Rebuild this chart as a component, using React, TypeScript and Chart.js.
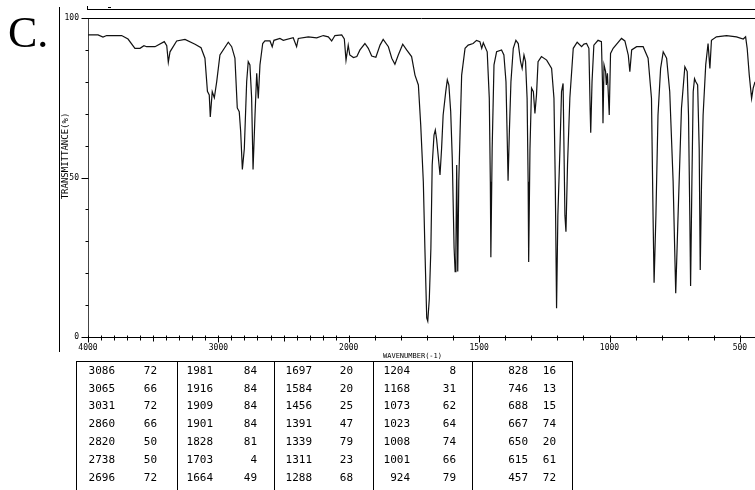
import React, { useEffect, useRef } from "react";
import { Chart, registerables } from "chart.js";

Chart.register(...registerables);

// Spectrum trace (wavenumber in cm-1, transmittance in %)
const wavenumbers = [
  4000, 3923, 3885, 3857, 3742, 3693, 3640, 3601, 3571, 3550, 3486, 3415, 3396, 3384, 3371, 3320,
  3256, 3179, 3133, 3103, 3084, 3070, 3062, 3047, 3031, 3013, 2988, 2924, 2898, 2873, 2855, 2840,
  2829, 2816, 2801, 2783, 2771, 2758, 2745, 2734, 2719, 2706, 2694, 2681, 2660, 2643, 2604, 2587,
  2574, 2528, 2502, 2426, 2400, 2387, 2310, 2246, 2195, 2157, 2131, 2106, 2054, 2034, 2021, 2004,
  1996, 1982, 1969, 1957, 1938, 1925, 1912, 1896, 1880, 1868, 1848, 1835, 1823, 1810, 1793, 1778,
  1759, 1746, 1733, 1724, 1714, 1708, 1701, 1697, 1691, 1685, 1680, 1673, 1668, 1663, 1650, 1644,
  1638, 1628, 1622, 1616, 1609, 1603, 1596, 1592, 1589, 1586, 1582, 1578, 1573, 1567, 1554, 1542,
  1523, 1510, 1497, 1490, 1484, 1469, 1461, 1457, 1455, 1450, 1443, 1433, 1414, 1405, 1397, 1392,
  1389, 1384, 1378, 1369, 1359, 1350, 1341, 1335, 1328, 1322, 1316, 1312, 1310, 1305, 1299, 1292,
  1286, 1280, 1274, 1261, 1241, 1222, 1213, 1208, 1203, 1198, 1190, 1184, 1178, 1171, 1167, 1161,
  1152, 1139, 1124, 1107, 1098, 1088, 1079, 1074, 1072, 1067, 1060, 1044, 1031, 1027, 1025, 1021,
  1015, 1012, 1008, 1001, 996, 986, 954, 941, 928, 922, 915, 896, 871, 852, 839, 833,
  829, 822, 814, 804, 794, 781, 769, 756, 746, 737, 724, 711, 702, 697, 692, 689,
  684, 679, 674, 669, 662, 656, 652, 647, 641, 631, 622, 615, 609, 590, 551, 513,
  487, 478, 472, 464, 455, 449, 442,
];
const transmittance = [
  94.7, 94.7, 94, 94.5, 94.5, 93.4, 90.5, 90.5, 91.3, 91, 91, 92.6, 91.3, 86.1, 89.4, 92.8,
  93.3, 91.8, 90.7, 87.4, 77, 75.9, 69, 76.9, 75, 80, 88.4, 92.4, 91, 87.4, 71.8, 70.6,
  64.4, 52.5, 59, 80, 86.3, 85.3, 75, 52.5, 69.6, 82.7, 74.8, 85.3, 92, 92.8, 92.8, 91,
  93, 93.6, 93, 93.8, 91, 93.6, 94.1, 93.8, 94.5, 94.1, 92.8, 94.5, 94.7, 93.4, 86.8, 91.5,
  88.4, 87.6, 87.9, 90, 92, 90.5, 88.1, 87.7, 91.5, 93.3, 91, 87.4, 85.5, 88.4, 91.8, 90,
  87.9, 82.1, 79, 66.5, 48.7, 27.8, 6, 5, 12, 27.8, 53.9, 63.3, 64.9, 62, 50.8, 59,
  69.6, 76.9, 80.6, 79, 70.6, 56, 27.9, 20.5, 27.9, 53.9, 20.5, 48.7, 64.4, 82.1, 90.5, 91.5,
  92, 93, 92.6, 90.5, 92.2, 89.4, 74.8, 48.7, 25, 59.1, 85.3, 89.4, 90, 88.4, 80, 61.2,
  49, 64.4, 80, 90.5, 93, 92, 86.3, 84.2, 88.4, 86.3, 74.8, 48.7, 23.5, 59, 78, 76.9,
  70.1, 75.9, 86.3, 87.9, 86.8, 84.2, 74.8, 48.7, 9, 38.2, 59, 76.9, 79.5, 38.2, 33, 54,
  75, 90.5, 92.4, 91, 91.8, 92, 90.5, 70.6, 64, 80, 91.5, 93, 92.6, 80, 67, 85.3,
  83.2, 79, 82.7, 69.6, 88.9, 90.5, 93.6, 92.8, 88.4, 83.2, 90, 91, 91, 87.4, 74.8, 38.2,
  17, 38.2, 69.6, 84.2, 89.4, 87.4, 76.9, 48.7, 13.7, 38.2, 71.7, 84.7, 83.2, 69.6, 38.2, 16,
  48.7, 76.9, 81, 80, 79, 59, 21, 48.7, 69.6, 85.3, 92, 84.2, 93, 94.1, 94.5, 94.1,
  93.4, 94.1, 90.5, 82.1, 74.8, 78, 80,
];

// Axis ticks
const xMajorTicks = [4000, 3000, 2000, 1500, 1000, 500];
const yMajorTicks = [0, 50, 100];

// Peak table
const peakWavenumbers = [
  3086, 3065, 3031, 2860, 2820, 2738, 2696,
  1981, 1916, 1909, 1901, 1828, 1703, 1664,
  1697, 1584, 1456, 1391, 1339, 1311, 1288,
  1204, 1168, 1073, 1023, 1008, 1001, 924,
  828, 746, 688, 667, 650, 615, 457,
];
const peakTransmittances = [
  72, 66, 72, 66, 50, 50, 72,
  84, 84, 84, 84, 81, 4, 49,
  20, 20, 25, 47, 79, 23, 68,
  8, 31, 62, 64, 74, 66, 79,
  16, 13, 15, 74, 20, 61, 72,
];

const panelLabel = "C.";
const xTitle = "WAVENUMBER(-1)";
const yTitle = "TRANSMITTANCE(%)";

// Split-scale IR abscissa: 4000-2000 compressed 2:1 vs 2000-450
function toP(w: number): number {
  return w >= 2000 ? 4000 - w : 2000 + 2 * (2000 - w);
}

const MONO = '"DejaVu Sans Mono", "Liberation Mono", monospace';

const decorPlugin = {
  id: "decor",
  afterDraw(chart: any) {
    const ctx = chart.ctx as CanvasRenderingContext2D;
    const xs = chart.scales.x;
    const ys = chart.scales.y;
    const area = chart.chartArea;
    const W = chart.width;
    ctx.save();
    ctx.strokeStyle = "#000";
    ctx.fillStyle = "#000";
    ctx.lineWidth = 1;

    // top frame at 100 %
    const y100 = Math.round(ys.getPixelForValue(100)) + 0.5;
    ctx.beginPath();
    ctx.moveTo(area.left, y100);
    ctx.lineTo(W, y100);
    ctx.stroke();

    // y ticks every 10 %
    const axX = Math.round(area.left) + 0.5;
    for (let v = 0; v <= 100; v += 10) {
      const y = Math.round(ys.getPixelForValue(v)) + 0.5;
      const len = yMajorTicks.includes(v) ? 7 : 3;
      ctx.beginPath();
      ctx.moveTo(axX - len, y);
      ctx.lineTo(axX, y);
      ctx.stroke();
    }
    // x ticks every 100 cm-1
    const axY = Math.round(area.bottom) + 0.5;
    for (let w = 4000; w >= 500; w -= 100) {
      const x = Math.round(xs.getPixelForValue(toP(w))) + 0.5;
      const len = xMajorTicks.includes(w) ? 5 : w % 500 === 0 ? 4 : 3;
      ctx.beginPath();
      ctx.moveTo(x, axY - 2);
      ctx.lineTo(x, axY + len);
      ctx.stroke();
    }

    // axis titles
    ctx.font = `7px ${MONO}`;
    ctx.textBaseline = "middle";
    ctx.textAlign = "left";
    ctx.fillText(xTitle, 383, 356);
    ctx.save();
    ctx.translate(66, 156);
    ctx.rotate(-Math.PI / 2);
    ctx.textAlign = "center";
    ctx.font = `9px ${MONO}`;
    ctx.fillText(yTitle, 0, 0);
    ctx.restore();

    // outer decorations
    ctx.beginPath();
    ctx.moveTo(59.5, 7);
    ctx.lineTo(59.5, 352);
    ctx.moveTo(87, 9.5);
    ctx.lineTo(W, 9.5);
    ctx.moveTo(87.5, 6);
    ctx.lineTo(87.5, 9.5);
    ctx.moveTo(108, 7.5);
    ctx.lineTo(111, 7.5);
    ctx.stroke();

    // panel label
    ctx.font = '44px "Liberation Serif", "Times New Roman", serif';
    ctx.textAlign = "left";
    ctx.textBaseline = "alphabetic";
    ctx.fillText(panelLabel, 8, 47);

    // peak table
    const colLines = [76, 177, 274, 373, 472, 572];
    ctx.beginPath();
    ctx.moveTo(76, 361.5);
    ctx.lineTo(572, 361.5);
    for (const cx of colLines) {
      ctx.moveTo(cx + 0.5, 361);
      ctx.lineTo(cx + 0.5, 490);
    }
    ctx.stroke();
    const waveRight = [39, 36, 38, 37, 56];
    const transRight = [81, 80, 79, 83, 84];
    ctx.font = `11px ${MONO}`;
    ctx.textAlign = "right";
    ctx.textBaseline = "middle";
    const rows = 7;
    for (let i = 0; i < peakWavenumbers.length; i++) {
      const col = Math.floor(i / rows);
      const row = i % rows;
      const y = 371 + row * 17.8;
      const left = colLines[col];
      ctx.fillText(String(peakWavenumbers[i]), left + waveRight[col], y);
      ctx.fillText(String(peakTransmittances[i]), left + transRight[col], y);
    }
    ctx.restore();
  },
};

export default function App() {
  const canvasRef = useRef<HTMLCanvasElement | null>(null);

  useEffect(() => {
    const canvas = canvasRef.current;
    if (!canvas) return;
    const points = wavenumbers.map((w, i) => ({ x: toP(w), y: transmittance[i] }));
    const chart = new Chart(canvas, {
      type: "line",
      data: {
        datasets: [
          {
            data: points,
            borderColor: "#111",
            borderWidth: 1.2,
            pointRadius: 0,
            tension: 0,
            fill: false,
          },
        ],
      },
      options: {
        animation: false,
        responsive: false,
        maintainAspectRatio: false,
        events: [],
        layout: { padding: { top: 18, left: 0, right: 0, bottom: 0 } },
        plugins: { legend: { display: false }, tooltip: { enabled: false } },
        scales: {
          x: {
            type: "linear",
            min: 0,
            max: toP(442),
            afterBuildTicks: (scale: any) => {
              scale.ticks = xMajorTicks.map((w) => ({ value: toP(w) }));
            },
            afterFit: (scale: any) => {
              scale.height = 153;
            },
            grid: { display: true, drawOnChartArea: false, drawTicks: false },
            border: { display: true, color: "#000", width: 1 },
            ticks: {
              autoSkip: false,
              maxRotation: 0,
              padding: 6,
              color: "#000",
              font: { family: MONO, size: 8 },
              callback: (_v: any, i: number) => String(xMajorTicks[i]),
            },
          },
          y: {
            type: "linear",
            min: 0,
            max: 100,
            afterBuildTicks: (scale: any) => {
              scale.ticks = yMajorTicks.map((v) => ({ value: v }));
            },
            afterFit: (scale: any) => {
              scale.width = 88;
            },
            grid: { display: true, drawOnChartArea: false, drawTicks: false },
            border: { display: true, color: "#444", width: 1 },
            ticks: {
              padding: 9,
              color: "#000",
              font: { family: MONO, size: 8 },
              callback: (v: any) => String(v),
            },
          },
        },
      },
      plugins: [decorPlugin],
    });
    return () => chart.destroy();
  }, []);

  return (
    <div style={{ position: "absolute", left: 0, top: 0, width: 755, height: 490, background: "#fff" }}>
      <canvas ref={canvasRef} width={755} height={490} style={{ display: "block" }} />
    </div>
  );
}
